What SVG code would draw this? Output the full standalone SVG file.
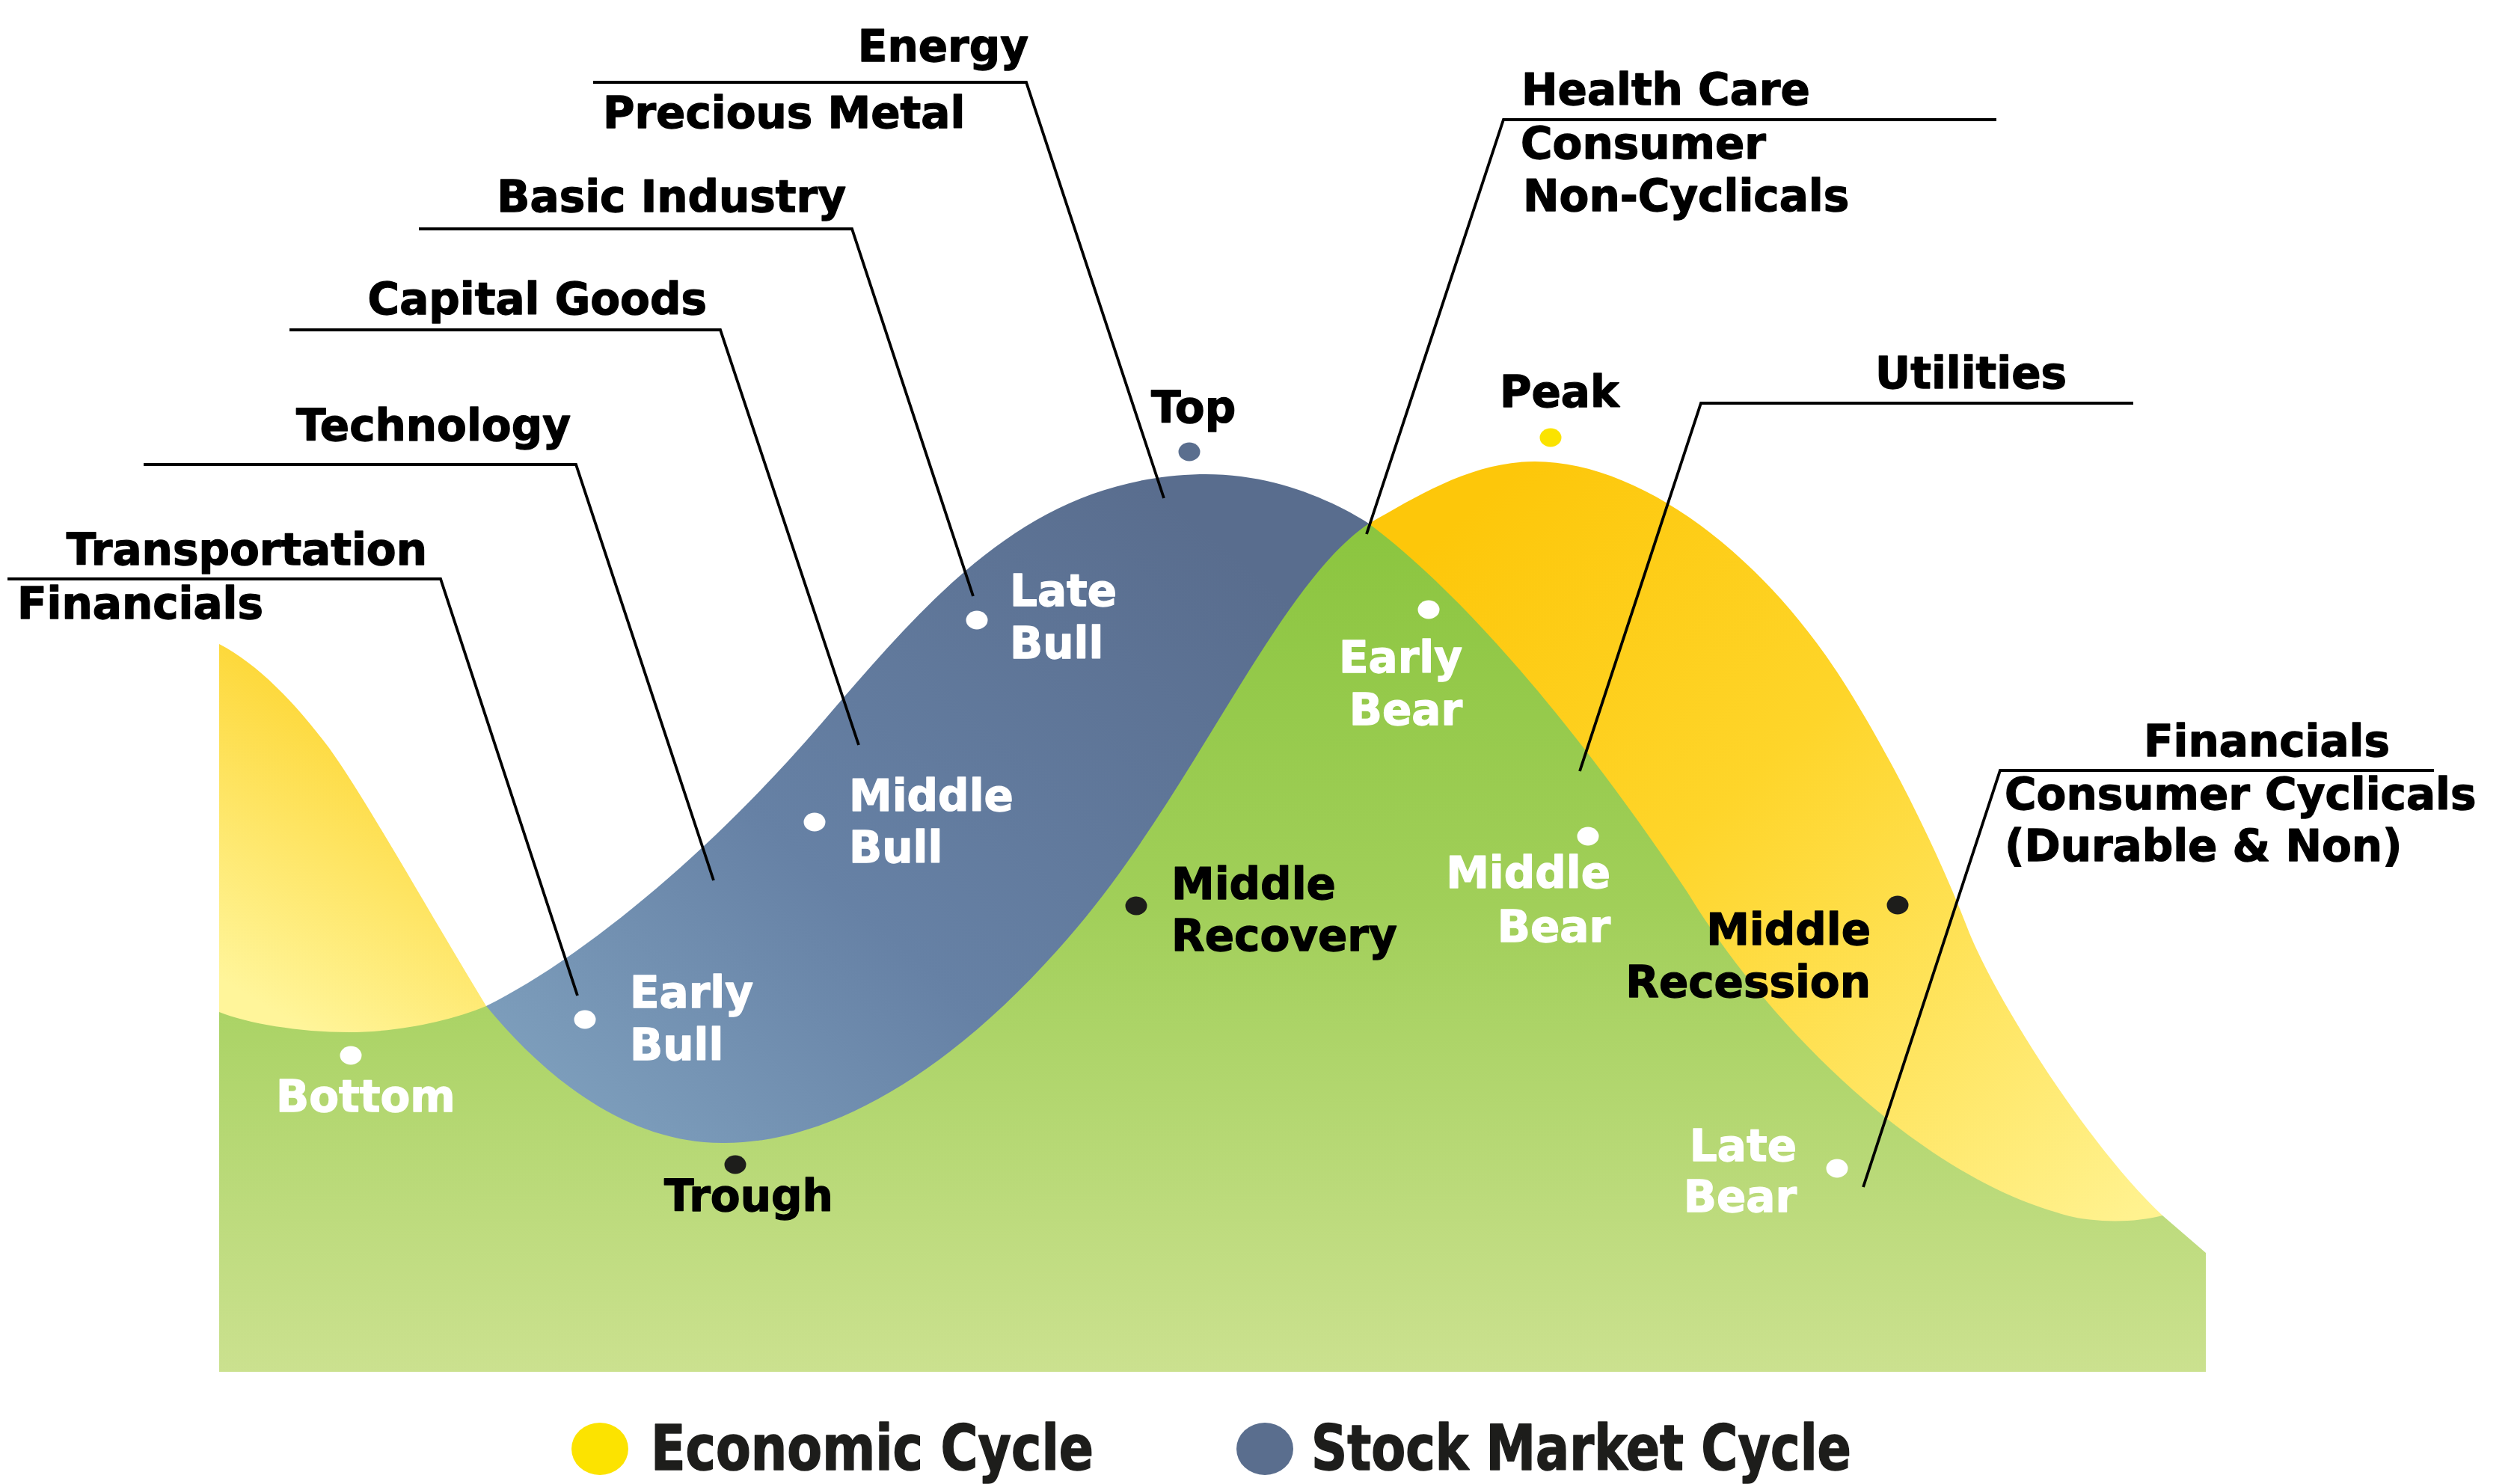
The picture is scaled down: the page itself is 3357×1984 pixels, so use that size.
<svg xmlns="http://www.w3.org/2000/svg" width="3357" height="1984" viewBox="0 0 3357 1984">
<style>
.lbl{font-family:"DejaVu Sans","Liberation Sans",sans-serif;font-weight:bold;font-size:58px;stroke-width:1.3;stroke-linejoin:round}
.blk{fill:#000;stroke:#000}
.wht{fill:#fff;stroke:#fff}
.ln{fill:none;stroke:#000;stroke-width:3.8;stroke-linejoin:miter}
.leg{font-family:"DejaVu Sans Condensed","DejaVu Sans",sans-serif;font-stretch:condensed;font-weight:bold;font-size:84px;fill:#1d1d1b;stroke:#1d1d1b;stroke-width:1.5;stroke-linejoin:round}
.dw{fill:#fff}
.dk{fill:#1d1d1b}
</style>
<defs>
<linearGradient id="gGreen" gradientUnits="userSpaceOnUse" x1="0" y1="700" x2="0" y2="1834">
<stop offset="0" stop-color="#8bc53f"/>
<stop offset="0.45" stop-color="#a1cf59"/>
<stop offset="1" stop-color="#cbe18f"/>
</linearGradient>
<linearGradient id="gBlue" gradientUnits="userSpaceOnUse" x1="1550" y1="650" x2="780" y2="1500">
<stop offset="0" stop-color="#596d8e"/>
<stop offset="0.6" stop-color="#6681a5"/>
<stop offset="1" stop-color="#7d9ebc"/>
</linearGradient>
<linearGradient id="gYelR" gradientUnits="userSpaceOnUse" x1="2000" y1="650" x2="2860" y2="1620">
<stop offset="0" stop-color="#fdc70a"/>
<stop offset="0.4" stop-color="#fed52a"/>
<stop offset="1" stop-color="#fff28f"/>
</linearGradient>
<linearGradient id="gYelL" gradientUnits="userSpaceOnUse" x1="560" y1="950" x2="330" y2="1330">
<stop offset="0" stop-color="#fdd42c"/>
<stop offset="1" stop-color="#fff59a"/>
</linearGradient>
</defs>

<g id="areas">
<path id="econ-left" fill="url(#gYelL)" d="M293,861 C345,888 395,940 440,1000 C490,1070 565,1205 650,1345 L650,1700 L293,1700 Z"/>
<path id="econ-right" fill="url(#gYelR)" d="M1830,700 C1900,660 1970,617 2052,617 C2180,617 2330,720 2440,875 C2500,960 2580,1110 2630,1240 C2665,1331 2790,1530 2891,1625 L2891,1700 L1830,1700 Z"/>
<path id="stock" fill="url(#gBlue)" d="M650,1345 C780,1280 950,1140 1100,965 C1250,790 1380,640 1604,634 C1700,632 1780,668 1830,700 L1830,1700 L650,1700 Z"/>
<path id="base" fill="url(#gGreen)" d="M293,1353 C330,1368 400,1380 466,1380 C530,1380 600,1366 650,1345 C720,1430 830,1528 965,1528 C1110,1530 1280,1430 1440,1240 C1600,1050 1710,780 1830,700 C1950,790 2100,960 2256,1193 C2370,1380 2570,1570 2750,1621 C2790,1635 2850,1636 2891,1625 L2949,1675 L2949,1834 L293,1834 Z"/>
</g>

<g id="connectors">
<path class="ln" d="M793,110 H1372 L1556,666"/>
<path class="ln" d="M560,306 H1139 L1301,797"/>
<path class="ln" d="M387,441 H963 L1148,996"/>
<path class="ln" d="M192,621 H770 L954,1177"/>
<path class="ln" d="M10,774 H589 L772,1331"/>
<path class="ln" d="M2669,160 H2010 L1827,714"/>
<path class="ln" d="M2852,539 H2274 L2112,1031"/>
<path class="ln" d="M3254,1030 H2674 L2491,1587"/>
</g>

<g id="sector-energy">
<text class="lbl blk" x="1375" y="82" text-anchor="end">Energy</text>
<text class="lbl blk" x="806" y="171">Precious Metal</text>
</g>
<g id="sector-basic"><text class="lbl blk" x="1131" y="283" text-anchor="end">Basic Industry</text></g>
<g id="sector-capital"><text class="lbl blk" x="945" y="420" text-anchor="end">Capital Goods</text></g>
<g id="sector-tech"><text class="lbl blk" x="763" y="589" text-anchor="end">Technology</text></g>
<g id="sector-transport">
<text class="lbl blk" x="571" y="755" text-anchor="end">Transportation</text>
<text class="lbl blk" x="23" y="827">Financials</text>
</g>
<g id="sector-health">
<text class="lbl blk" x="2034" y="140">Health Care</text>
<text class="lbl blk" x="2033" y="212">Consumer</text>
<text class="lbl blk" x="2036" y="282">Non-Cyclicals</text>
</g>
<g id="sector-utilities"><text class="lbl blk" x="2763" y="519" text-anchor="end">Utilities</text></g>
<g id="sector-financials">
<text class="lbl blk" x="3195" y="1011" text-anchor="end">Financials</text>
<text class="lbl blk" x="2680" y="1082">Consumer Cyclicals</text>
<text class="lbl blk" x="2680" y="1151">(Durable &amp; Non)</text>
</g>

<g id="node-bottom">
<ellipse class="dw" cx="469" cy="1411" rx="14.5" ry="12.5"/>
<text class="lbl wht" x="369" y="1486">Bottom</text>
</g>
<g id="node-early-bull">
<ellipse class="dw" cx="782" cy="1363" rx="14.5" ry="12.5"/>
<text class="lbl wht" x="842" y="1347">Early</text>
<text class="lbl wht" x="842" y="1417">Bull</text>
</g>
<g id="node-middle-bull">
<ellipse class="dw" cx="1089" cy="1099" rx="14.5" ry="12.5"/>
<text class="lbl wht" x="1135" y="1084">Middle</text>
<text class="lbl wht" x="1135" y="1153">Bull</text>
</g>
<g id="node-late-bull">
<ellipse class="dw" cx="1306" cy="829" rx="14.5" ry="12.5"/>
<text class="lbl wht" x="1350" y="810">Late</text>
<text class="lbl wht" x="1350" y="880">Bull</text>
</g>
<g id="node-top">
<ellipse fill="#5a6e8e" cx="1590" cy="604" rx="14.5" ry="12.5"/>
<text class="lbl blk" x="1539" y="565">Top</text>
</g>
<g id="node-trough">
<ellipse class="dk" cx="983" cy="1557" rx="14.5" ry="12.5"/>
<text class="lbl blk" x="888" y="1619">Trough</text>
</g>
<g id="node-middle-recovery">
<ellipse class="dk" cx="1519" cy="1211" rx="14.5" ry="12.5"/>
<text class="lbl blk" x="1566" y="1202">Middle</text>
<text class="lbl blk" x="1566" y="1271">Recovery</text>
</g>
<g id="node-early-bear">
<ellipse class="dw" cx="1910" cy="815" rx="14.5" ry="12.5"/>
<text class="lbl wht" x="1955" y="899" text-anchor="end">Early</text>
<text class="lbl wht" x="1955" y="969" text-anchor="end">Bear</text>
</g>
<g id="node-peak">
<ellipse fill="#fbe300" cx="2073" cy="585" rx="14.5" ry="12.5"/>
<text class="lbl blk" x="2005" y="544">Peak</text>
</g>
<g id="node-middle-bear">
<ellipse class="dw" cx="2123" cy="1118" rx="14.5" ry="12.5"/>
<text class="lbl wht" x="2153" y="1187" text-anchor="end">Middle</text>
<text class="lbl wht" x="2153" y="1259" text-anchor="end">Bear</text>
</g>
<g id="node-middle-recession">
<ellipse class="dk" cx="2537" cy="1210" rx="14.5" ry="12.5"/>
<text class="lbl blk" x="2501" y="1263" text-anchor="end">Middle</text>
<text class="lbl blk" x="2501" y="1333" text-anchor="end">Recession</text>
</g>
<g id="node-late-bear">
<ellipse class="dw" cx="2456" cy="1562" rx="14.5" ry="12.5"/>
<text class="lbl wht" x="2402" y="1552" text-anchor="end">Late</text>
<text class="lbl wht" x="2402" y="1620" text-anchor="end">Bear</text>
</g>

<g id="legend">
<ellipse fill="#fce300" cx="802" cy="1937" rx="38" ry="35"/>
<text class="leg" x="870" y="1965" textLength="592" lengthAdjust="spacingAndGlyphs">Economic Cycle</text>
<ellipse fill="#5a6e8e" cx="1691" cy="1937" rx="38" ry="35"/>
<text class="leg" x="1753" y="1965" textLength="722" lengthAdjust="spacingAndGlyphs">Stock Market Cycle</text>
</g>
</svg>
